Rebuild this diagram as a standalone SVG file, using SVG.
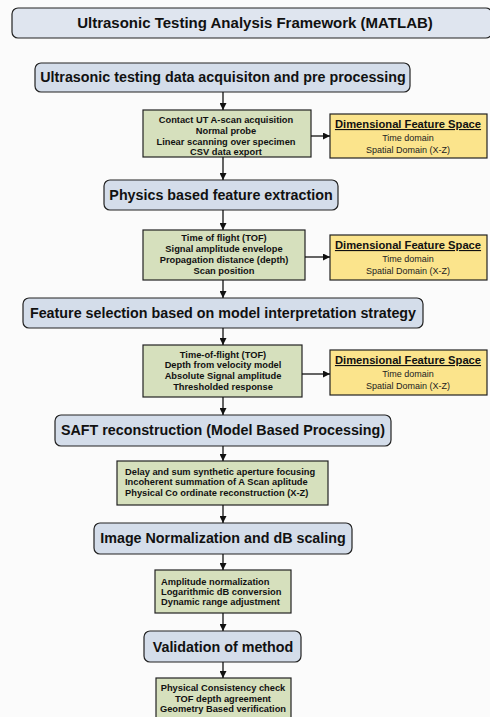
<svg xmlns="http://www.w3.org/2000/svg" width="490" height="717" viewBox="0 0 490 717">
<defs>
<marker id="ah" viewBox="0 0 10 10" refX="10" refY="5" markerWidth="7" markerHeight="7" markerUnits="userSpaceOnUse" orient="auto">
<path d="M0,0 L10,5 L0,10 z" fill="#111"/>
</marker>
<style>
.bg{fill:#fbfbfb}
.title{fill:#dfe5ef;stroke:#222;stroke-width:1.2}
.blue{fill:#d4ddea;stroke:#222;stroke-width:1.2}
.green{fill:#d6e0bd;stroke:#222;stroke-width:1.2}
.yellow{fill:#fbe48c;stroke:#222;stroke-width:1.2}
.tt{font-family:"Liberation Sans",Arial,sans-serif;font-weight:bold;font-size:15px;fill:#111;text-anchor:middle}
.bt{font-family:"Liberation Sans",Arial,sans-serif;font-weight:bold;font-size:14.3px;fill:#111;text-anchor:middle}
.gt{font-family:"Liberation Sans",Arial,sans-serif;font-weight:bold;font-size:9.3px;fill:#111;text-anchor:middle}
.gl{text-anchor:start}
.yt{font-family:"Liberation Sans",Arial,sans-serif;font-weight:bold;font-size:11.2px;fill:#111;text-anchor:middle;text-decoration:underline}
.ys{font-family:"Liberation Sans",Arial,sans-serif;font-size:9px;fill:#222;text-anchor:middle}
.c{stroke:#111;stroke-width:1.3;fill:none;marker-end:url(#ah)}
</style>
</defs>
<rect class="bg" x="0" y="0" width="490" height="717"/>
<g id="title">
<rect class="title" x="12" y="8" width="480" height="30" rx="6"/>
<text class="tt" x="255" y="28">Ultrasonic Testing Analysis Framework (MATLAB)</text>
</g>
<g id="acq">
<rect class="blue" x="35" y="63" width="375" height="29" rx="6"/>
<text class="bt" x="223" y="82">Ultrasonic testing data acquisiton and pre processing</text>
</g>
<g id="acq-details">
<rect class="green" x="143" y="110" width="168" height="47"/>
<text class="gt" x="226" y="123">Contact UT A-scan acquisition</text>
<text class="gt" x="226" y="134">Normal probe</text>
<text class="gt" x="226" y="145">Linear scanning over specimen</text>
<text class="gt" x="226" y="155">CSV data export</text>
</g>
<g id="dfs1">
<rect class="yellow" x="330" y="114" width="157" height="44"/>
<text class="yt" x="408" y="128">Dimensional Feature Space</text>
<text class="ys" x="408" y="141">Time domain</text>
<text class="ys" x="408" y="153">Spatial Domain (X-Z)</text>
</g>
<g id="phys">
<rect class="blue" x="104" y="180" width="234" height="30" rx="6"/>
<text class="bt" x="221" y="200">Physics based feature extraction</text>
</g>
<g id="phys-details">
<rect class="green" x="143" y="230" width="162" height="50"/>
<text class="gt" x="224" y="241">Time of flight (TOF)</text>
<text class="gt" x="224" y="252">Signal amplitude envelope</text>
<text class="gt" x="224" y="263">Propagation distance (depth)</text>
<text class="gt" x="224" y="274">Scan position</text>
</g>
<g id="dfs2">
<rect class="yellow" x="330" y="235" width="157" height="45"/>
<text class="yt" x="408" y="249">Dimensional Feature Space</text>
<text class="ys" x="408" y="262">Time domain</text>
<text class="ys" x="408" y="274">Spatial Domain (X-Z)</text>
</g>
<g id="sel">
<rect class="blue" x="23" y="298" width="400" height="30" rx="6"/>
<text class="bt" x="223" y="318">Feature selection based on model interpretation strategy</text>
</g>
<g id="sel-details">
<rect class="green" x="143" y="345" width="159" height="52"/>
<text class="gt" x="223" y="358">Time-of-flight (TOF)</text>
<text class="gt" x="223" y="368">Depth from velocity model</text>
<text class="gt" x="223" y="379">Absolute Signal amplitude</text>
<text class="gt" x="223" y="390">Thresholded response</text>
</g>
<g id="dfs3">
<rect class="yellow" x="330" y="350" width="157" height="45"/>
<text class="yt" x="408" y="364">Dimensional Feature Space</text>
<text class="ys" x="408" y="377">Time domain</text>
<text class="ys" x="408" y="389">Spatial Domain (X-Z)</text>
</g>
<g id="saft">
<rect class="blue" x="55" y="415" width="336" height="31" rx="6"/>
<text class="bt" x="223" y="435">SAFT reconstruction (Model Based Processing)</text>
</g>
<g id="saft-details">
<rect class="green" x="117" y="461" width="211" height="44"/>
<text class="gt gl" x="125" y="475">Delay and sum synthetic aperture focusing</text>
<text class="gt gl" x="125" y="485">Incoherent summation of A Scan aplitude</text>
<text class="gt gl" x="125" y="496">Physical Co ordinate reconstruction (X-Z)</text>
</g>
<g id="norm">
<rect class="blue" x="94" y="523" width="258" height="31" rx="6"/>
<text class="bt" x="223" y="543">Image Normalization and dB scaling</text>
</g>
<g id="norm-details">
<rect class="green" x="155" y="570" width="136" height="43"/>
<text class="gt gl" x="161" y="585">Amplitude normalization</text>
<text class="gt gl" x="161" y="595">Logarithmic dB conversion</text>
<text class="gt gl" x="161" y="605">Dynamic range adjustment</text>
</g>
<g id="valid">
<rect class="blue" x="144" y="631" width="157" height="31" rx="6"/>
<text class="bt" x="223" y="652">Validation of method</text>
</g>
<g id="valid-details">
<rect class="green" x="156" y="678" width="135" height="48"/>
<text class="gt" x="223" y="691">Physical Consistency check</text>
<text class="gt" x="223" y="702">TOF depth agreement</text>
<text class="gt" x="223" y="712">Geometry Based verification</text>
</g>
<g id="connectors">
<line class="c" x1="223" y1="92" x2="223" y2="110"/>
<line class="c" x1="311" y1="136" x2="330" y2="136"/>
<line class="c" x1="223" y1="157" x2="223" y2="180"/>
<line class="c" x1="223" y1="210" x2="223" y2="230"/>
<line class="c" x1="305" y1="257" x2="330" y2="257"/>
<line class="c" x1="223" y1="280" x2="223" y2="298"/>
<line class="c" x1="223" y1="328" x2="223" y2="345"/>
<line class="c" x1="302" y1="374" x2="330" y2="374"/>
<line class="c" x1="223" y1="397" x2="223" y2="415"/>
<line class="c" x1="223" y1="446" x2="223" y2="461"/>
<line class="c" x1="223" y1="505" x2="223" y2="523"/>
<line class="c" x1="223" y1="554" x2="223" y2="570"/>
<line class="c" x1="223" y1="613" x2="223" y2="631"/>
<line class="c" x1="223" y1="662" x2="223" y2="678"/>
</g>
</svg>
